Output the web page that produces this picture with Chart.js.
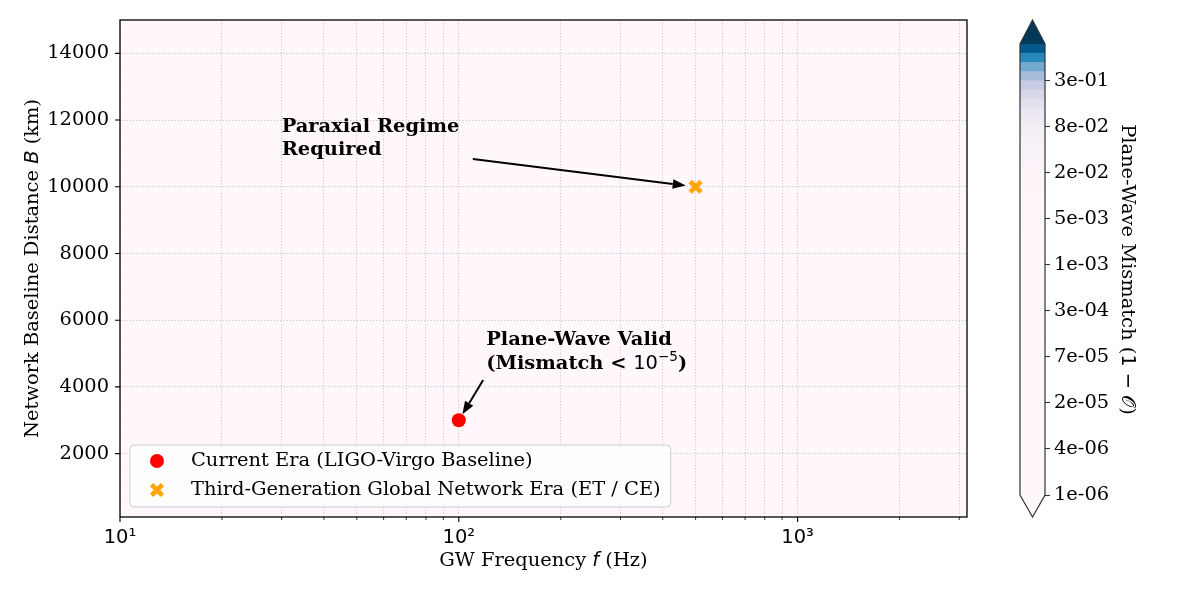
<!DOCTYPE html>
<html>
<head>
<meta charset="utf-8">
<script src="https://cdn.jsdelivr.net/npm/chart.js@4.4.1/dist/chart.umd.min.js"></script>
<style>
html, body { margin: 0; padding: 0; background: #fff; }
#wrap { position: relative; width: 1200px; height: 600px; }
#main { position: absolute; left: 0; top: 0; }
#cbar { position: absolute; left: 1000px; top: 0; }
</style>
</head>
<body>
<div id="wrap">
  <canvas id="main" width="1000" height="600"></canvas>
  <canvas id="cbar" width="200" height="600"></canvas>
</div>
<script>
// Plane-wave mismatch map: two network eras on a log-frequency / baseline plane

const seriesNames = ['Current Era (LIGO-Virgo Baseline)', 'Third-Generation Global Network Era (ET / CE)'];
const freqHz = [100, 500];
const baselineKm = [3000, 10000];
const seriesColors = ['#ff0000', '#ffa500'];

const xRange = [10, 3162.3];
const yRange = [100, 15000];
const xMajorTicks = [10, 100, 1000];
const xMajorLabels = ['10\u00b9', '10\u00b2', '10\u00b3'];
const xMinorTicks = [20, 30, 40, 50, 60, 70, 80, 90, 200, 300, 400, 500, 600, 700, 800, 900, 2000, 3000];
const yTicks = [2000, 4000, 6000, 8000, 10000, 12000, 14000];

// colorbar: 50 log-spaced contour levels 1e-6 .. 1, label every 5th level
const cbarLevelCount = 50;
const cbarTickLevels = [0, 5, 10, 15, 20, 25, 30, 35, 40, 45];
const cbarTickLabels = ['1e-06', '4e-06', '2e-05', '7e-05', '3e-04', '1e-03', '5e-03', '2e-02', '8e-02', '3e-01'];

// annotations (data coords)
const noteParaxial = { lines: ['Paraxial Regime', 'Required'], textAt: [30, 11640], arrowFrom: [110, 10830], target: 1, shrink: 10 };
const noteValid = { textAt: [120.5, 5260], arrowFrom: [118, 4205], target: 0, shrink: 7 };

const SERIF = '"DejaVu Serif", serif';
const SANS = '"DejaVu Sans", sans-serif';
const FS = 19.44;
const f = (size, fam, style) => `${style || ''} ${size}px ${fam}`.trim();

const pubuStops = ['#fff7fb', '#ece7f2', '#d0d1e6', '#a6bddb', '#74a9cf', '#3690c0', '#0570b0', '#045a8d', '#023858'];
function hex2rgb(h) { return [1, 3, 5].map(i => parseInt(h.slice(i, i + 2), 16)); }
function pubu(t) {
    t = Math.max(0, Math.min(1, t));
    const p = t * 8;
    const i = Math.min(7, Math.floor(p));
    const fr = p - i;
    const a = hex2rgb(pubuStops[i]), b = hex2rgb(pubuStops[i + 1]);
    const c = a.map((v, k) => Math.round(v + (b[k] - v) * fr));
    return `rgb(${c[0]},${c[1]},${c[2]})`;
}

// X marker (filled cross) as an image point style
function makeXMarker(color) {
    const c = document.createElement('canvas');
    c.width = 18; c.height = 18;
    const g = c.getContext('2d');
    g.strokeStyle = color;
    g.lineWidth = 4.8;
    g.lineCap = 'butt';
    g.beginPath();
    g.moveTo(3.6, 3.6); g.lineTo(14.4, 14.4);
    g.moveTo(14.4, 3.6); g.lineTo(3.6, 14.4);
    g.stroke();
    return c;
}
const xMarker = makeXMarker(seriesColors[1]);

function drawRich(ctx, parts, x, y, opts = {}) {
    ctx.save();
    ctx.translate(x, y);
    if (opts.rotate) ctx.rotate(opts.rotate);
    let total = 0;
    parts.forEach(p => { ctx.font = p[1]; total += ctx.measureText(p[0]).width; });
    let cx = opts.align === 'center' ? -total / 2 : 0;
    ctx.textBaseline = opts.baseline || 'alphabetic';
    ctx.textAlign = 'left';
    ctx.fillStyle = '#000';
    parts.forEach(p => {
        ctx.font = p[1];
        ctx.fillText(p[0], cx, -(p[2] || 0));
        cx += ctx.measureText(p[0]).width;
    });
    ctx.restore();
}

function drawArrow(ctx, x0, y0, x1, y1, shrink) {
    const ang = Math.atan2(y1 - y0, x1 - x0);
    const tx = x1 - shrink * Math.cos(ang), ty = y1 - shrink * Math.sin(ang);
    const head = 13, hw = 4.8;
    const bx = tx - head * Math.cos(ang), by = ty - head * Math.sin(ang);
    ctx.save();
    ctx.strokeStyle = '#000';
    ctx.fillStyle = '#000';
    ctx.lineWidth = 2;
    ctx.beginPath(); ctx.moveTo(x0, y0); ctx.lineTo(bx, by); ctx.stroke();
    ctx.beginPath();
    ctx.moveTo(tx, ty);
    ctx.lineTo(bx + hw * Math.sin(ang), by - hw * Math.cos(ang));
    ctx.lineTo(bx - hw * Math.sin(ang), by + hw * Math.cos(ang));
    ctx.closePath(); ctx.fill();
    ctx.restore();
}

const mainPlugin = {
    id: 'mainDecor',
    beforeDraw(chart) {
        const { ctx, chartArea: a } = chart;
        ctx.save();
        ctx.fillStyle = pubuStops[0];
        ctx.fillRect(a.left, a.top, a.right - a.left, a.bottom - a.top);
        ctx.restore();
    },
    afterDraw(chart) {
        const { ctx, chartArea: a } = chart;
        const xs = chart.scales.x, ys = chart.scales.y;

        // frame
        ctx.save();
        ctx.strokeStyle = '#000';
        ctx.lineWidth = 1.3;
        ctx.strokeRect(a.left, a.top, a.right - a.left, a.bottom - a.top);

        // tick marks
        ctx.lineWidth = 1.1;
        ctx.beginPath();
        xMajorTicks.forEach(v => { const px = xs.getPixelForValue(v); ctx.moveTo(px, a.bottom); ctx.lineTo(px, a.bottom + 5); });
        yTicks.forEach(v => { const py = ys.getPixelForValue(v); ctx.moveTo(a.left, py); ctx.lineTo(a.left - 5, py); });
        ctx.stroke();
        ctx.lineWidth = 0.8;
        ctx.beginPath();
        xMinorTicks.forEach(v => { const px = xs.getPixelForValue(v); ctx.moveTo(px, a.bottom); ctx.lineTo(px, a.bottom + 3); });
        ctx.stroke();
        ctx.restore();

        // annotations
        const bold = f(FS, SERIF, 'bold');
        let tx = xs.getPixelForValue(noteParaxial.textAt[0]), ty = ys.getPixelForValue(noteParaxial.textAt[1]);
        noteParaxial.lines.forEach((ln, i) => drawRich(ctx, [[ln, bold]], tx, ty + i * 23));
        drawArrow(ctx, xs.getPixelForValue(noteParaxial.arrowFrom[0]), ys.getPixelForValue(noteParaxial.arrowFrom[1]),
            xs.getPixelForValue(freqHz[noteParaxial.target]), ys.getPixelForValue(baselineKm[noteParaxial.target]), noteParaxial.shrink);

        tx = xs.getPixelForValue(noteValid.textAt[0]); ty = ys.getPixelForValue(noteValid.textAt[1]);
        drawRich(ctx, [['Plane-Wave Valid', bold]], tx, ty);
        drawRich(ctx, [['(Mismatch < ', bold], ['10', f(FS, SANS)], ['\u22125', f(FS * 0.7, SANS), 8], [')', bold]], tx, ty + 24);
        drawArrow(ctx, xs.getPixelForValue(noteValid.arrowFrom[0]), ys.getPixelForValue(noteValid.arrowFrom[1]),
            xs.getPixelForValue(freqHz[noteValid.target]), ys.getPixelForValue(baselineKm[noteValid.target]), noteValid.shrink);

        // legend, lower left inside the axes
        const font = f(FS, SERIF);
        ctx.save();
        ctx.font = font;
        const tw = Math.max(...seriesNames.map(s => ctx.measureText(s).width));
        const bx = a.left + 10, bw = 61 + tw + 10, bh = 62, by = a.bottom - 10 - bh;
        ctx.fillStyle = 'rgba(255,255,255,0.8)';
        ctx.strokeStyle = '#cccccc';
        ctx.lineWidth = 1;
        ctx.beginPath();
        ctx.roundRect(bx, by, bw, bh, 4);
        ctx.fill(); ctx.stroke();
        chart.data.datasets.forEach((ds, i) => {
            const cy = by + 16 + i * 29;
            const mx = bx + 27;
            if (ds.pointStyle instanceof HTMLCanvasElement) {
                ctx.drawImage(ds.pointStyle, mx - ds.pointStyle.width / 2, cy - ds.pointStyle.height / 2);
            } else {
                ctx.fillStyle = ds.backgroundColor;
                ctx.beginPath(); ctx.arc(mx, cy, ds.pointRadius, 0, Math.PI * 2); ctx.fill();
            }
            ctx.fillStyle = '#000';
            ctx.textBaseline = 'middle';
            ctx.fillText(ds.label, bx + 61, cy);
        });
        ctx.restore();

        // axis titles
        drawRich(ctx, [['Network Baseline Distance ', font], ['B', f(FS, SANS, 'italic')], [' (km)', font]],
            33, (a.top + a.bottom) / 2, { rotate: -Math.PI / 2, align: 'center', baseline: 'middle' });
        drawRich(ctx, [['GW Frequency ', font], ['f', f(FS, SANS, 'italic')], [' (Hz)', font]],
            (a.left + a.right) / 2, 561, { align: 'center', baseline: 'middle' });
    }
};

const gridColor = 'rgba(160,160,160,0.7)';

new Chart(document.getElementById('main'), {
    type: 'scatter',
    data: {
        datasets: [
            { label: seriesNames[0], data: [{ x: freqHz[0], y: baselineKm[0] }], backgroundColor: seriesColors[0], borderWidth: 0, pointStyle: 'circle', pointRadius: 7, pointHoverRadius: 7 },
            { label: seriesNames[1], data: [{ x: freqHz[1], y: baselineKm[1] }], backgroundColor: seriesColors[1], borderWidth: 0, pointStyle: xMarker, pointRadius: 8 }
        ]
    },
    options: {
        responsive: false,
        animation: false,
        events: [],
        layout: { padding: { left: 0, right: 33, top: 20, bottom: 0 } },
        plugins: { legend: { display: false }, tooltip: { enabled: false } },
        scales: {
            x: {
                type: 'logarithmic',
                min: xRange[0], max: xRange[1],
                afterBuildTicks: s => { s.ticks = xMajorTicks.concat(xMinorTicks).sort((p, q) => p - q).map(v => ({ value: v })); },
                afterFit: s => { s.height = 83; s.paddingLeft = 0; s.paddingRight = 0; },
                ticks: {
                    autoSkip: false, maxRotation: 0, padding: 9, color: '#000',
                    font: { family: 'DejaVu Sans', size: FS },
                    callback: v => { const k = xMajorTicks.indexOf(v); return k >= 0 ? xMajorLabels[k] : ''; }
                },
                grid: { color: gridColor, lineWidth: 0.8, drawTicks: false },
                border: { display: false, dash: [1.2, 2] }
            },
            y: {
                min: yRange[0], max: yRange[1],
                afterBuildTicks: s => { s.ticks = yTicks.map(v => ({ value: v })); },
                afterFit: s => { s.width = 120; s.paddingTop = 0; s.paddingBottom = 0; },
                ticks: { padding: 11, color: '#000', font: { family: 'DejaVu Serif', size: FS }, callback: v => String(v) },
                grid: { color: gridColor, lineWidth: 0.8, drawTicks: false },
                border: { display: false, dash: [1.2, 2] }
            }
        }
    },
    plugins: [mainPlugin]
});

// ---- colorbar ----
const cbarLevels = Array.from({ length: cbarLevelCount }, (_, i) => Math.pow(10, -6 + 6 * i / (cbarLevelCount - 1)));
const lo = cbarLevels[0], hi = cbarLevels[cbarLevelCount - 1];
const cbarDatasets = [];
for (let i = 0; i < cbarLevelCount - 1; i++) {
    const mid = (cbarLevels[i] + cbarLevels[i + 1]) / 2;
    cbarDatasets.push({ data: [1], backgroundColor: pubu((mid - lo) / (hi - lo)), borderWidth: 0, stack: 'cb', barPercentage: 1, categoryPercentage: 1 });
}

const cbarPlugin = {
    id: 'cbarDecor',
    afterDraw(chart) {
        const { ctx, chartArea: a } = chart;
        const cx = (a.left + a.right) / 2;
        ctx.save();
        ctx.fillStyle = pubuStops[pubuStops.length - 1];
        ctx.beginPath(); ctx.moveTo(a.left, a.top); ctx.lineTo(cx, 20); ctx.lineTo(a.right, a.top); ctx.closePath(); ctx.fill();
        ctx.fillStyle = pubuStops[0];
        ctx.beginPath(); ctx.moveTo(a.left, a.bottom); ctx.lineTo(cx, 517); ctx.lineTo(a.right, a.bottom); ctx.closePath(); ctx.fill();
        ctx.strokeStyle = '#333';
        ctx.lineWidth = 1.2;
        ctx.beginPath();
        ctx.moveTo(a.left, a.bottom); ctx.lineTo(cx, 517); ctx.lineTo(a.right, a.bottom);
        ctx.lineTo(a.right, a.top); ctx.lineTo(cx, 20); ctx.lineTo(a.left, a.top); ctx.closePath();
        ctx.stroke();
        ctx.restore();
        drawRich(ctx, [['Plane-Wave Mismatch (', f(FS, SERIF)], ['1 \u2212 ', f(FS, SANS)], ['\ud835\udcaa', f(FS, SANS)], [')', f(FS, SERIF)]],
            127, (a.top + a.bottom) / 2, { rotate: Math.PI / 2, align: 'center', baseline: 'middle' });
    }
};

new Chart(document.getElementById('cbar'), {
    type: 'bar',
    data: { labels: [''], datasets: cbarDatasets },
    options: {
        responsive: false,
        animation: false,
        events: [],
        layout: { padding: { left: 20, right: 0, top: 44, bottom: 105 } },
        plugins: { legend: { display: false }, tooltip: { enabled: false } },
        scales: {
            x: { stacked: true, display: false },
            y: {
                stacked: true,
                position: 'right',
                min: 0, max: cbarLevelCount - 1,
                afterBuildTicks: s => { s.ticks = cbarTickLevels.map(v => ({ value: v })); },
                afterFit: s => { s.width = 155; s.paddingTop = 0; s.paddingBottom = 0; },
                ticks: {
                    padding: 4, color: '#000', font: { family: 'DejaVu Serif', size: FS },
                    callback: v => cbarTickLabels[cbarTickLevels.indexOf(v)]
                },
                grid: { drawOnChartArea: false, drawTicks: true, tickLength: 5, tickWidth: 1.1, tickColor: '#333' },
                border: { display: false }
            }
        }
    },
    plugins: [cbarPlugin]
});
</script>
</body>
</html>
